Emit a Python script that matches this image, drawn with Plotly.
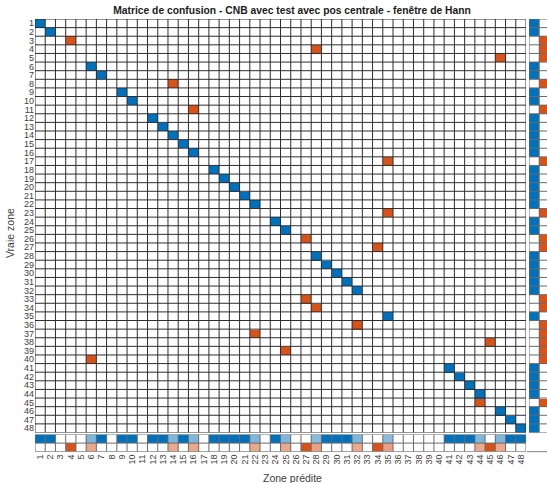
import numpy as np
import plotly.graph_objects as go

# ---- data -------------------------------------------------------------
zones = list(range(1, 49))
zone_labels = [str(z) for z in zones]
true_zone = zones
predicted_zone = [1, 2, 4, 28, 46, 6, 7, 14, 9, 10, 16, 12, 13, 14, 15, 16,
                  35, 18, 19, 20, 21, 22, 35, 24, 25, 27, 34, 28, 29, 30, 31, 32,
                  27, 28, 35, 32, 22, 45, 25, 6, 41, 42, 43, 44, 44, 46, 47, 48]

title_text = "Matrice de confusion - CNB avec test avec pos centrale - fenêtre de Hann"
x_title = "Zone prédite"
y_title = "Vraie zone"

# ---- confusion matrix and summaries -----------------------------------
n = len(zones)
cm = np.zeros((n, n))
for t, p in zip(true_zone, predicted_zone):
    cm[t - 1, p - 1] += 1

eye = np.eye(n, dtype=bool)
# positive -> correct (blue), negative -> wrong (orange)
main_z = np.where(eye, cm, -cm) / cm.max()

row_tot = cm.sum(axis=1)
col_tot = cm.sum(axis=0)
diag = np.diag(cm)
recall = np.divide(diag, row_tot, out=np.zeros(n), where=row_tot > 0)
fnr = np.where(row_tot > 0, 1 - recall, 0)
precision = np.divide(diag, col_tot, out=np.zeros(n), where=col_tot > 0)
fdr = np.where(col_tot > 0, 1 - precision, 0)

right_z = np.column_stack([recall, -fnr])
bottom_z = np.vstack([precision, -fdr])

# ---- colours ----------------------------------------------------------
BLUE = (0, 114, 189)
ORANGE = (217, 83, 25)


def tint(c, f):
    return "rgb(%d,%d,%d)" % tuple(round(255 + f * (v - 255)) for v in c)


colorscale = [
    [0.0, tint(ORANGE, 1.0)],
    [0.15, tint(ORANGE, 0.56)],
    [0.35, tint(ORANGE, 0.46)],
    [0.5, "rgb(255,255,255)"],
    [0.65, tint(BLUE, 0.46)],
    [0.85, tint(BLUE, 0.56)],
    [1.0, tint(BLUE, 1.0)],
]

# ---- layout geometry (pixels) -----------------------------------------
W, H = 547, 483
mx0, mx1 = 35.0, 526.0          # matrix left/right
my0, my1 = 19.0, 432.5          # matrix top/bottom
by0, by1 = 434.5, 451.7         # column summary top/bottom
rx0 = 529.0                     # row summary left
cell_w = (mx1 - mx0) / n


def fx(px):
    return px / W


def fy(px):
    return 1 - px / H


FONT = "Liberation Sans, Arial, Helvetica, sans-serif"
TXT = "#404040"

fig = go.Figure()
common = dict(zmin=-1, zmax=1, colorscale=colorscale, showscale=False,
              hoverinfo="skip")
fig.add_trace(go.Heatmap(z=main_z, x=zones, y=zones, xaxis="x", yaxis="y", **common))
fig.add_trace(go.Heatmap(z=bottom_z, x=zones, y=[1, 2], xaxis="x2", yaxis="y2", **common))
fig.add_trace(go.Heatmap(z=right_z, x=[1, 2], y=zones, xaxis="x3", yaxis="y3", **common))

shapes = []
GRID = "#2e2e2e"
SUMGRID = "#6a6a6a"
edges = np.arange(n + 1) + 0.5
for e in edges:
    shapes.append(dict(type="line", xref="x", yref="y", x0=e, x1=e, y0=0.5, y1=n + 0.5,
                       line=dict(color=GRID, width=1), layer="above"))
    shapes.append(dict(type="line", xref="x", yref="y", x0=0.5, x1=n + 0.5, y0=e, y1=e,
                       line=dict(color=GRID, width=1), layer="above"))
    # column summary
    shapes.append(dict(type="line", xref="x2", yref="y2", x0=e, x1=e, y0=0.5, y1=2.5,
                       line=dict(color=SUMGRID, width=1), layer="above"))
    # row summary
    shapes.append(dict(type="line", xref="x3", yref="y3", x0=0.5, x1=2.5, y0=e, y1=e,
                       line=dict(color=SUMGRID, width=1), layer="above"))
for e in [0.5, 1.5, 2.5]:
    shapes.append(dict(type="line", xref="x2", yref="y2", x0=0.5, x1=n + 0.5, y0=e, y1=e,
                       line=dict(color=SUMGRID, width=1), layer="above"))
    shapes.append(dict(type="line", xref="x3", yref="y3", x0=e, x1=e, y0=0.5, y1=n + 0.5,
                       line=dict(color=SUMGRID, width=1), layer="above"))
shapes.append(dict(type="line", xref="paper", yref="paper", x0=fx(mx1 + 1), x1=1,
                   y0=fy(by1), y1=fy(by1), line=dict(color="#808080", width=1)))

axis_base = dict(showgrid=False, zeroline=False, showline=False, ticks="",
                 fixedrange=True, automargin=False)

fig.update_layout(
    width=W, height=H,
    margin=dict(l=0, r=0, t=0, b=0),
    template="none",
    paper_bgcolor="white", plot_bgcolor="white",
    font=dict(family=FONT, color=TXT, size=9),
    title=dict(text=title_text, x=fx(292), xanchor="center", y=fy(10), yanchor="middle",
               font=dict(family=FONT, size=10.3, color="#1a1a1a", weight="bold")),
    xaxis=dict(axis_base, domain=[fx(mx0), fx(mx1)], range=[0.5, n + 0.5],
               showticklabels=False, anchor="y"),
    yaxis=dict(axis_base, domain=[fy(my1), fy(my0)], range=[n + 0.5, 0.5],
               tickmode="array", tickvals=zones, ticktext=zone_labels,
               tickfont=dict(size=9, color=TXT), anchor="x"),
    xaxis2=dict(axis_base, domain=[fx(mx0), fx(mx1)], range=[0.5, n + 0.5],
                tickmode="array", tickvals=zones, ticktext=zone_labels, tickangle=-90,
                tickfont=dict(size=9, color=TXT), anchor="y2"),
    yaxis2=dict(axis_base, domain=[fy(by1), fy(by0)], range=[2.5, 0.5],
                showticklabels=False, anchor="x2"),
    xaxis3=dict(axis_base, domain=[fx(rx0), 1], range=[0.5, 0.5 + (W - rx0) / cell_w],
                showticklabels=False, anchor="y3"),
    yaxis3=dict(axis_base, domain=[fy(my1), fy(my0)], range=[n + 0.5, 0.5],
                showticklabels=False, anchor="x3"),
    shapes=shapes,
    annotations=[
        dict(text=x_title, x=fx(292), y=fy(478), xref="paper", yref="paper",
             showarrow=False, xanchor="center", yanchor="middle",
             font=dict(family=FONT, size=10.5, color=TXT)),
        dict(text=y_title, x=fx(10), y=fy(233), xref="paper", yref="paper",
             showarrow=False, xanchor="center", yanchor="middle", textangle=-90,
             font=dict(family=FONT, size=10.5, color=TXT)),
    ],
)

fig.write_html("out.html")
